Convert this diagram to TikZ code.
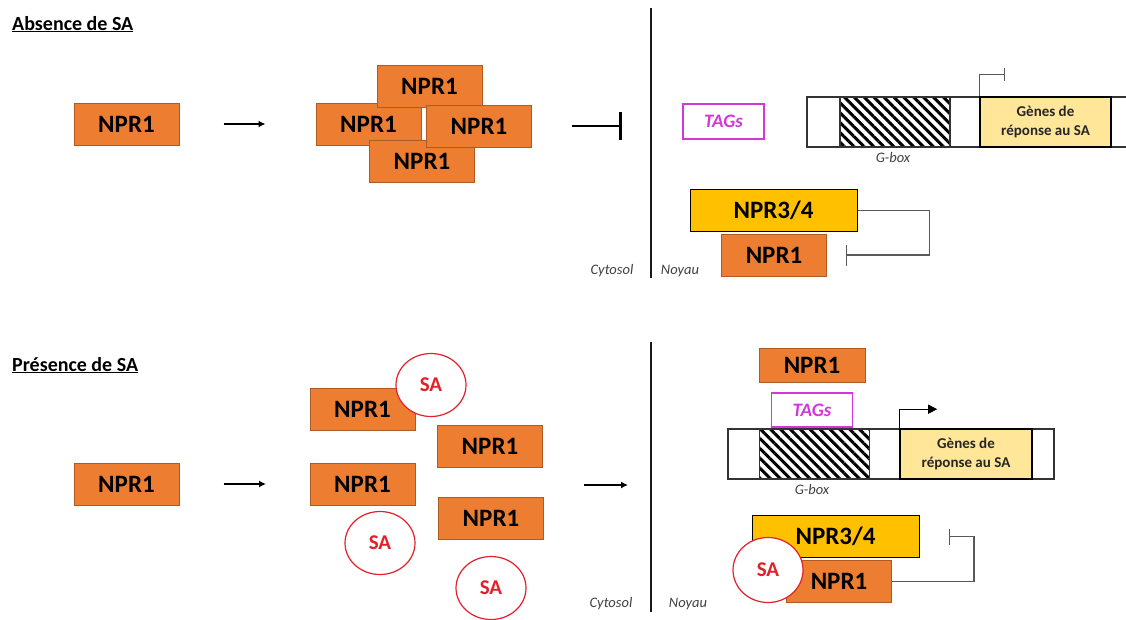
\documentclass[tikz,border=0pt]{standalone}
\usepackage{fontspec}
\setmainfont{Carlito}
\usetikzlibrary{arrows.meta,shapes.geometric,patterns.meta}
\definecolor{nprorange}{HTML}{ED7D31}
\definecolor{nprborder}{HTML}{AE5A21}
\definecolor{nprgold}{HTML}{FFC000}
\definecolor{genefill}{HTML}{FFE699}
\definecolor{tagpink}{HTML}{D238D8}
\definecolor{sared}{HTML}{E3202A}
\begin{document}
\begin{tikzpicture}[x=1pt, y=-1pt,
    npr/.style={draw=nprborder, fill=nprorange, line width=1pt, inner sep=0pt,
                minimum width=105pt, minimum height=42pt,
                font=\fontsize{25}{28}\selectfont\bfseries},
    npr34/.style={npr, draw=black, fill=nprgold, minimum width=167pt},
    sa/.style={ellipse, draw=sared, fill=white, line width=1.2pt, inner sep=0pt,
               minimum width=70pt, minimum height=63pt, text=sared,
               font=\fontsize{21}{24}\selectfont\bfseries},
    tags/.style={draw=tagpink, fill=white, line width=1.2pt, inner sep=0pt,
                 minimum width=81pt, minimum height=35pt, text=tagpink,
                 font=\fontsize{19}{22}\selectfont\bfseries\itshape},
    genes/.style={draw=black, fill=genefill, line width=1.6pt, inner sep=0pt,
                  minimum width=131pt, minimum height=50pt, align=center,
                  text=black!85, font=\fontsize{15}{19}\selectfont\bfseries},
    strip/.style={draw=black!80, fill=white, line width=1.2pt},
    gbox/.style={draw=black!80, line width=1.2pt, inner sep=0pt,
                 minimum width=110pt, minimum height=50pt,
                 pattern={Lines[angle=-45, distance=7pt, line width=3pt]}},
    arr/.style={-{Latex[length=7pt, width=7pt]}, line width=2.6pt},
    inh/.style={-{Bar[width=28pt]}, line width=2.6pt},
    fb/.style={draw=black!65, line width=1.2pt},
    divider/.style={line width=2.4pt, black!90},
    title/.style={anchor=base west, inner sep=0pt,
                  font=\fontsize{20}{24}\selectfont\bfseries},
    note/.style={inner sep=0pt, text=black!75,
                 font=\fontsize{14.5}{17}\selectfont\itshape}
  ]
    \useasboundingbox (0,0) rectangle (1126,619);

    % absence de SA
    \node[title] (titA) at (12,30) {\underline{Absence de SA}};
    \node[npr] (nprL1) at (126.5,124) {NPR1};
    \node[npr] (olL) at (368.5,124) {NPR1};
    \node[npr] (olT) at (429.5,86.5) {NPR1};
    \node[npr] (olB) at (422,161.5) {NPR1};
    \node[npr] (olR) at (479,126) {NPR1};
    \coordinate (nucA) at (651,126);

    \draw[arr, shorten <=44pt, shorten >=50pt] (nprL1) -- (olL);
    \draw[inh, shorten <=40pt, shorten >=29pt] (olR.east) -- (nucA);
    \draw[divider] (651,8) -- (651,278);
    \node[note] (cytA) at (612,271) {Cytosol};
    \node[note] (noyA) at (680,271) {Noyau};

    \node[tags] (tagsA) at (723.5,121.5) {TAGs};
    \draw[strip] (807,97) rectangle (1130,147);
    \node[gbox] (hatchA) at (895,122) {};
    \node[genes] (genesA) at (1045.5,122) {Gènes de\\réponse au SA};
    \node[note] (gbA) at (893,158) {G-box};
    \draw[fb, -{Bar[width=13pt]}] (genesA.north west) -- ++(0,-22) -- ++(26,0);

    \node[npr34] (npr34A) at (773.5,210.5) {NPR3/4};
    \node[npr] (nprA) at (774,255) {NPR1};
    \draw[fb, -{Bar[width=21pt]}] (npr34A.east) -- ++(72,0) |- ([xshift=19pt]nprA.east);

    % presence de SA
    \node[title] (titB) at (12,371) {\underline{Présence de SA}};
    \node[npr] (nprL2) at (126.5,484) {NPR1};
    \node[npr] (nprA2) at (362.5,409.5) {NPR1};
    \node[npr] (nprB2) at (490,446.5) {NPR1};
    \node[npr] (nprC2) at (362.5,484) {NPR1};
    \node[npr] (nprD2) at (491,518) {NPR1};
    \node[sa] (sa1) at (431,385) {SA};
    \node[sa] (sa2) at (380,543) {SA};
    \node[sa] (sa3) at (491,588) {SA};
    \coordinate (cytB) at (584,485);
    \coordinate (nucB) at (628,485);

    \draw[arr, shorten <=44pt, shorten >=43.5pt] (nprL2) -- (nprC2);
    \draw[arr] (cytB) -- (nucB);
    \draw[divider] (651,342) -- (651,612);
    \node[note] (cytB) at (611,604) {Cytosol};
    \node[note] (noyB) at (688,604) {Noyau};

    \draw[strip] (728,429) rectangle (1054,479);
    \node[gbox] (hatchB) at (814.5,454) {};
    \node[genes, minimum width=132pt] (genesB) at (966,454) {Gènes de\\réponse au SA};
    \node[note] (gbB) at (812,490) {G-box};
    \draw[fb, -{Triangle[length=9pt, width=9pt]}, black] (genesB.north west) -- ++(0,-19) -- ++(38,0);
    \node[tags, minimum height=34pt] (tagsB) at (812,410) {TAGs};
    \node[npr, minimum width=106pt, minimum height=34pt] (nprT) at (812,365.5) {NPR1};

    \node[npr34] (npr34B) at (835.5,536.5) {NPR3/4};
    \node[npr] (nprD) at (839,581.5) {NPR1};
    \node[sa, minimum height=65pt] (sa4) at (768,570) {SA};
    \draw[fb, -{Bar[width=16pt]}] (nprD.east) -- ++(82,0) |- ([xshift=29pt]npr34B.east);
  \end{tikzpicture}
\end{document}
